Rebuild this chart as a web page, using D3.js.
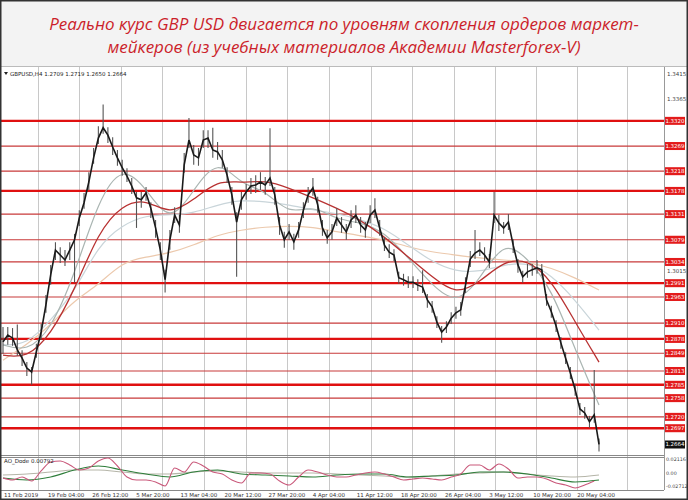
<!DOCTYPE html>
<html><head><meta charset="utf-8">
<script src="https://cdn.jsdelivr.net/npm/d3@7"></script>
<style>html,body{margin:0;padding:0;background:#fff;} svg{display:block;}</style>
</head><body><svg id="c" width="688" height="500"></svg>
<script>
// ---------------- DATA ----------------
const titleLines = [
  "Реально курс GBP USD двигается по уровням скопления ордеров маркет-",
  "мейкеров (из учебных материалов Академии Masterforex-V)"
];
const symbolInfo = "GBPUSD,H4  1.2709 1.2719 1.2650 1.2664";
const oscName = "AO_Dode 0.00792";
const dateLabels = ["11 Feb 2019","19 Feb 04:00","26 Feb 12:00","5 Mar 20:00","13 Mar 04:00","20 Mar 12:00",
  "27 Mar 20:00","4 Apr 04:00","11 Apr 12:00","18 Apr 20:00","26 Apr 04:00","3 May 12:00","10 May 20:00","20 May 04:00"];

// price samples (every 4 H4 bars)
const closes = [1.2872,1.2886,1.2880,1.2856,1.2839,1.2819,1.2811,1.2852,1.2892,1.2947,
 1.3008,1.3058,1.3048,1.3038,1.3058,1.3079,1.3123,1.3154,1.3196,1.3245,
 1.3285,1.3306,1.3291,1.3267,1.3245,1.3225,1.3208,1.3188,1.3164,1.3160,
 1.3174,1.3143,1.3103,1.3058,1.2998,1.3079,1.3129,1.3109,1.3231,1.3281,
 1.3251,1.3245,1.3281,1.3285,1.3261,1.3257,1.3241,1.3210,1.3170,1.3115,
 1.3160,1.3176,1.3188,1.3190,1.3196,1.3190,1.3204,1.3170,1.3109,1.3079,
 1.3095,1.3075,1.3099,1.3139,1.3170,1.3184,1.3150,1.3103,1.3083,1.3095,
 1.3123,1.3109,1.3095,1.3119,1.3129,1.3109,1.3099,1.3129,1.3139,1.3103,
 1.3068,1.3054,1.3048,1.3002,1.2998,1.2993,1.2993,1.2987,1.2983,1.2957,
 1.2943,1.2912,1.2892,1.2902,1.2920,1.2931,1.2937,1.2987,1.3040,1.3052,
 1.3058,1.3048,1.3034,1.3129,1.3113,1.3103,1.3115,1.3068,1.3028,1.3004,
 1.3014,1.3018,1.3022,1.3018,1.2957,1.2933,1.2904,1.2870,1.2839,1.2809,
 1.2775,1.2736,1.2728,1.2710,1.2724,1.2664];
const highs = [1.2902,1.2902,1.2900,1.2907,1.2855,1.2831,1.2821,1.2868,1.2908,1.2967,
 1.3028,1.3074,1.3064,1.3058,1.3074,1.3091,1.3139,1.3174,1.3216,1.3265,
 1.3309,1.3353,1.3307,1.3287,1.3261,1.3241,1.3224,1.3204,1.3176,1.3176,
 1.3186,1.3155,1.3119,1.3074,1.3018,1.3099,1.3145,1.3129,1.3255,1.3326,
 1.3271,1.3265,1.3301,1.3301,1.3306,1.3277,1.3261,1.3226,1.3186,1.3135,
 1.3176,1.3192,1.3204,1.3210,1.3216,1.3206,1.3305,1.3186,1.3125,1.3095,
 1.3111,1.3091,1.3115,1.3155,1.3186,1.3204,1.3166,1.3119,1.3099,1.3111,
 1.3143,1.3125,1.3111,1.3139,1.3149,1.3125,1.3115,1.3149,1.3163,1.3119,
 1.3084,1.3070,1.3060,1.3014,1.3010,1.3005,1.3005,1.2999,1.3017,1.2969,
 1.2955,1.2924,1.2904,1.2914,1.2932,1.2943,1.2953,1.3003,1.3056,1.3099,
 1.3074,1.3064,1.3050,1.3176,1.3129,1.3115,1.3131,1.3080,1.3040,1.3016,
 1.3030,1.3030,1.3038,1.3030,1.2969,1.2945,1.2916,1.2882,1.2851,1.2821,
 1.2787,1.2748,1.2740,1.2722,1.2815,1.2676];
const lows = [1.2848,1.2866,1.2864,1.2844,1.2823,1.2803,1.2785,1.2840,1.2876,1.2931,
 1.2988,1.3038,1.3032,1.3026,1.3038,1.2992,1.3107,1.3142,1.3180,1.3233,
 1.3273,1.3294,1.3275,1.3251,1.3229,1.3209,1.3196,1.3172,1.3103,1.3144,
 1.3158,1.3123,1.3083,1.3038,1.2972,1.3059,1.3113,1.3093,1.3215,1.3265,
 1.3231,1.3229,1.3265,1.3265,1.3245,1.3241,1.3225,1.3194,1.3150,1.3004,
 1.3140,1.3160,1.3172,1.3174,1.3180,1.3170,1.3188,1.3150,1.3089,1.3063,
 1.3079,1.3059,1.3083,1.3123,1.3154,1.3168,1.3134,1.3087,1.3071,1.3079,
 1.3107,1.3093,1.3079,1.3103,1.3113,1.3093,1.3083,1.3113,1.3123,1.3087,
 1.3056,1.3042,1.3036,1.2990,1.2986,1.2981,1.2981,1.2975,1.2971,1.2941,
 1.2931,1.2900,1.2870,1.2890,1.2908,1.2919,1.2925,1.2971,1.3024,1.3040,
 1.3046,1.3036,1.3022,1.3113,1.3097,1.3091,1.3099,1.3052,1.3012,1.2992,
 1.3002,1.3006,1.3010,1.3006,1.2945,1.2921,1.2892,1.2858,1.2827,1.2797,
 1.2763,1.2724,1.2716,1.2698,1.2708,1.2650];

// moving averages (every 20 bars)
const maRed = [1.2845,1.2839,1.2886,1.2977,1.3095,1.3150,1.3162,1.3129,1.3160,1.3200,1.3194,1.3200,1.3184,
  1.3164,1.3143,1.3119,1.3085,1.3044,1.3004,1.2967,1.2993,1.3036,1.3040,1.2998,1.2912,1.2831];
const maFast = [1.2866,1.2852,1.2896,1.3008,1.3160,1.3231,1.3184,1.3109,1.3180,1.3245,1.3190,1.3180,1.3129,
  1.3150,1.3119,1.3115,1.3095,1.3042,1.2987,1.2947,1.2998,1.3079,1.3042,1.2981,1.2856,1.2744];
const maMedium = [1.2866,1.2866,1.2916,1.2973,1.3068,1.3109,1.3129,1.3129,1.3133,1.3150,1.3160,1.3156,1.3150,
  1.3139,1.3133,1.3119,1.3103,1.3068,1.3034,1.3014,1.3014,1.3028,1.3034,1.3008,1.2957,1.2896];
const maSlow = [1.2835,1.2866,1.2906,1.2957,1.2987,1.3034,1.3044,1.3052,1.3068,1.3089,1.3099,1.3105,1.3107,
  1.3105,1.3095,1.3087,1.3079,1.3064,1.3054,1.3048,1.3042,1.3038,1.3034,1.3022,1.3002,1.2977];

// market-maker levels
const levelsThick = [1.3320,1.3178,1.2991,1.2878,1.2785,1.2697];
const levelsThin = [1.3269,1.3218,1.3131,1.3079,1.3034,1.2963,1.2910,1.2849,1.2813,1.2758,1.2720];
const priceTicks = [1.3415,1.3365,1.3315,1.3265,1.3215,1.3165,1.3115,1.3065,1.3015,1.2965,1.2915,1.2865,1.2815,1.2765,1.2715];
const lastPrice = 1.2664;

// oscillator
const oscPink = [-0.0096,-0.0125,-0.0081,-0.0140,0.0007,0.0138,0.0153,0.0095,0.0021,0.0051,0.0153,0.0197,0.0080,
 -0.0081,-0.0125,-0.0125,-0.0154,-0.0213,0.0051,-0.0008,0.0138,0.0080,-0.0008,-0.0037,-0.0125,-0.0169,-0.0022,
 -0.0022,-0.0037,-0.0140,-0.0198,-0.0081,0.0021,-0.0008,-0.0052,-0.0081,-0.0081,-0.0052,-0.0022,-0.0008,-0.0037,
 -0.0081,-0.0125,-0.0110,-0.0096,-0.0110,-0.0125,-0.0081,-0.0037,0.0095,0.0095,0.0021,0.0109,0.0036,-0.0096,
 -0.0081,-0.0081,-0.0110,-0.0169,-0.0198,-0.0242,-0.0198,-0.0140];
const oscGreen = [-0.0096,-0.0125,-0.0081,0.0021,0.0080,0.0021,-0.0037,-0.0081,-0.0008,0.0021,-0.0037,-0.0052,-0.0066,
 -0.0081,-0.0052,-0.0037,-0.0037,-0.0081,-0.0066,-0.0052,-0.0008,-0.0008,-0.0037,-0.0096,-0.0154,-0.0125];
const oscGray = [-0.0052,-0.0037,-0.0008,0.0021,0.0021,-0.0008,-0.0037,-0.0037,-0.0008,0.0007,-0.0008,-0.0022,-0.0022,
 -0.0022,-0.0037,-0.0052,-0.0066,-0.0081,-0.0066,-0.0037,-0.0022,-0.0008,-0.0037,-0.0066,-0.0081,-0.0052];
const oscTicks = [0.02116, 0.0, -0.02712];
const oscTickLabels = ["0.02116","0.00","-0.02712"];

// layout constants (bar steps)
const BAR_STEP = 4, MA_STEP = 20, PINK_STEP = 8, OSC_STEP = 20, LABEL_STEP = 37;
const gridBars = [29.4,63.8,99,133.4,168.6,203.9,238.3,273.5,308.7,343.1,378.4,412.8,447.1,481.5,523.5];

// ---------------- DRAW ----------------
const svg = d3.select("#c");
const W = 688, H = 500;
const x = d3.scaleLinear().domain([0, 500]).range([3, 599]);
const y = d3.scaleLinear().domain([1.2665, 1.3415]).range([444, 74]);
const yo = d3.scaleLinear().domain([-0.02712, 0.02116]).range([490, 457]);
const AXX = 664, TOP = 67, MAINB = 455, SUBT = 457, SUBB = 490;
const FONT = "'DejaVu Sans', sans-serif";

svg.append("rect").attr("width", W).attr("height", H).attr("fill", "#fff");
svg.append("rect").attr("x", 0).attr("y", 0).attr("width", W).attr("height", 66).attr("fill", "#f3f3f3");
svg.append("line").attr("x1", 0).attr("x2", W).attr("y1", 66.5).attr("y2", 66.5).attr("stroke", "#bbb");

// title
svg.append("g").selectAll("text").data(titleLines).join("text")
  .attr("x", 344).attr("y", (d, i) => 30 + i * 23)
  .attr("text-anchor", "middle")
  .attr("font-family", "'Open Sans', sans-serif").attr("font-style", "italic")
  .attr("font-size", 17).attr("fill", "#cc1f2b").text(d => d);

// grid
const g = svg.append("g");
g.selectAll("line.grid").data(gridBars).join("line").attr("class", "grid")
  .attr("x1", d => Math.round(x(d)) + 0.5).attr("x2", d => Math.round(x(d)) + 0.5)
  .attr("y1", TOP).attr("y2", SUBB).attr("stroke", "#c8c8c8").attr("stroke-width", 1);

// panes borders
g.append("line").attr("x1", AXX + 0.5).attr("x2", AXX + 0.5).attr("y1", TOP).attr("y2", SUBB).attr("stroke", "#999");
g.append("line").attr("x1", 0).attr("x2", AXX).attr("y1", MAINB + 0.5).attr("y2", MAINB + 0.5).attr("stroke", "#888");
g.append("line").attr("x1", 0).attr("x2", AXX).attr("y1", SUBT + 0.5).attr("y2", SUBT + 0.5).attr("stroke", "#888");
g.append("line").attr("x1", 0).attr("x2", AXX).attr("y1", SUBB + 0.5).attr("y2", SUBB + 0.5).attr("stroke", "#888");

// levels
const allLevels = levelsThick.concat(levelsThin).concat([lastPrice]);

// price ticks (gray) — only those not hidden under a level label
const visibleTicks = priceTicks.filter(t => allLevels.every(l => Math.abs(y(l) - y(t)) > 8));
g.selectAll("text.pt").data(visibleTicks).join("text").attr("class", "pt")
  .attr("x", AXX + 3).attr("y", d => y(d) + 2).attr("font-size", 5.5)
  .attr("font-family", FONT).attr("fill", "#444").text(d => d.toFixed(4));

g.selectAll("line.thin").data(levelsThin).join("line").attr("class", "thin")
  .attr("x1", 0).attr("x2", AXX).attr("y1", d => y(d)).attr("y2", d => y(d))
  .attr("stroke", "#c83a3a").attr("stroke-width", 1.2);
g.selectAll("line.thick").data(levelsThick).join("line").attr("class", "thick")
  .attr("x1", 0).attr("x2", AXX).attr("y1", d => y(d)).attr("y2", d => y(d))
  .attr("stroke", "#e01010").attr("stroke-width", 2.4);

// moving averages
const maLine = d3.line().x((d, i) => x(i * MA_STEP)).y(d => y(d)).curve(d3.curveBasis);
[[maSlow, "#ecc9ad", 1.2], [maMedium, "#c9d5da", 1.2], [maFast, "#aab5b2", 1.2], [maRed, "#b83232", 1.3]]
  .forEach(([arr, col, w]) => g.append("path").attr("d", maLine(arr)).attr("fill", "none").attr("stroke", col).attr("stroke-width", w));

// price wicks + close line
const idx = d3.range(closes.length);
g.selectAll("line.wick").data(idx).join("line").attr("class", "wick")
  .attr("x1", i => x(i * BAR_STEP)).attr("x2", i => x(i * BAR_STEP))
  .attr("y1", i => y(highs[i])).attr("y2", i => y(lows[i]))
  .attr("stroke", "#555").attr("stroke-width", 1.1);
g.append("path").attr("d", d3.line().x((d, i) => x(i * BAR_STEP)).y(d => y(d))(closes))
  .attr("fill", "none").attr("stroke", "#1a1a1a").attr("stroke-width", 1.6);

// level labels
const levLabels = levelsThick.concat(levelsThin);
const lab = g.selectAll("g.lab").data(levLabels).join("g").attr("class", "lab")
  .attr("transform", d => `translate(${AXX + 1},${y(d)})`);
lab.append("rect").attr("x", 0).attr("y", -4).attr("width", 20).attr("height", 8).attr("fill", "#e31b1b");
lab.append("text").attr("x", 10).attr("y", 2).attr("text-anchor", "middle").attr("font-size", 5.5)
  .attr("font-family", FONT).attr("fill", "#fff").text(d => d.toFixed(4));
const lp = g.append("g").attr("transform", `translate(${AXX + 1},${y(lastPrice)})`);
lp.append("rect").attr("x", 0).attr("y", -4).attr("width", 20).attr("height", 8).attr("fill", "#111");
lp.append("text").attr("x", 10).attr("y", 2).attr("text-anchor", "middle").attr("font-size", 5.5)
  .attr("font-family", FONT).attr("fill", "#fff").text(lastPrice.toFixed(4));

// header
g.append("path").attr("d", "M4,72 L8,72 L6,75 Z").attr("fill", "#222");
g.append("text").attr("x", 10).attr("y", 75.5).attr("font-size", 5.5)
  .attr("font-family", FONT).attr("fill", "#222").text(symbolInfo);

// oscillator
const oLine = step => d3.line().x((d, i) => x(i * step)).y(d => yo(d)).curve(d3.curveMonotoneX);
g.append("path").attr("d", oLine(OSC_STEP)(oscGray)).attr("fill", "none").attr("stroke", "#b5b5a8").attr("stroke-width", 1.1);
g.append("path").attr("d", oLine(OSC_STEP)(oscGreen)).attr("fill", "none").attr("stroke", "#2e7d3a").attr("stroke-width", 1.1);
g.append("path").attr("d", oLine(PINK_STEP)(oscPink)).attr("fill", "none").attr("stroke", "#c9587a").attr("stroke-width", 1.1);
g.append("text").attr("x", 4).attr("y", 463).attr("font-size", 5.5)
  .attr("font-family", FONT).attr("fill", "#222").text(oscName);
g.selectAll("text.ot").data(oscTicks).join("text").attr("class", "ot")
  .attr("x", AXX + 2).attr("y", (d, i) => [461, 475, 487.5][i]).attr("font-size", 4.8)
  .attr("font-family", FONT).attr("fill", "#444").text((d, i) => oscTickLabels[i]);

// date labels
g.selectAll("text.dl").data(dateLabels).join("text").attr("class", "dl")
  .attr("x", (d, i) => x(i * LABEL_STEP) + 1).attr("y", 496.5).attr("font-size", 5.5)
  .attr("font-family", FONT).attr("fill", "#333").text(d => d);

// outer frame
svg.append("rect").attr("x", 0.75).attr("y", 0.75).attr("width", W - 1.5).attr("height", H - 1.5)
  .attr("fill", "none").attr("stroke", "#333").attr("stroke-width", 1.5);
</script></body></html>
